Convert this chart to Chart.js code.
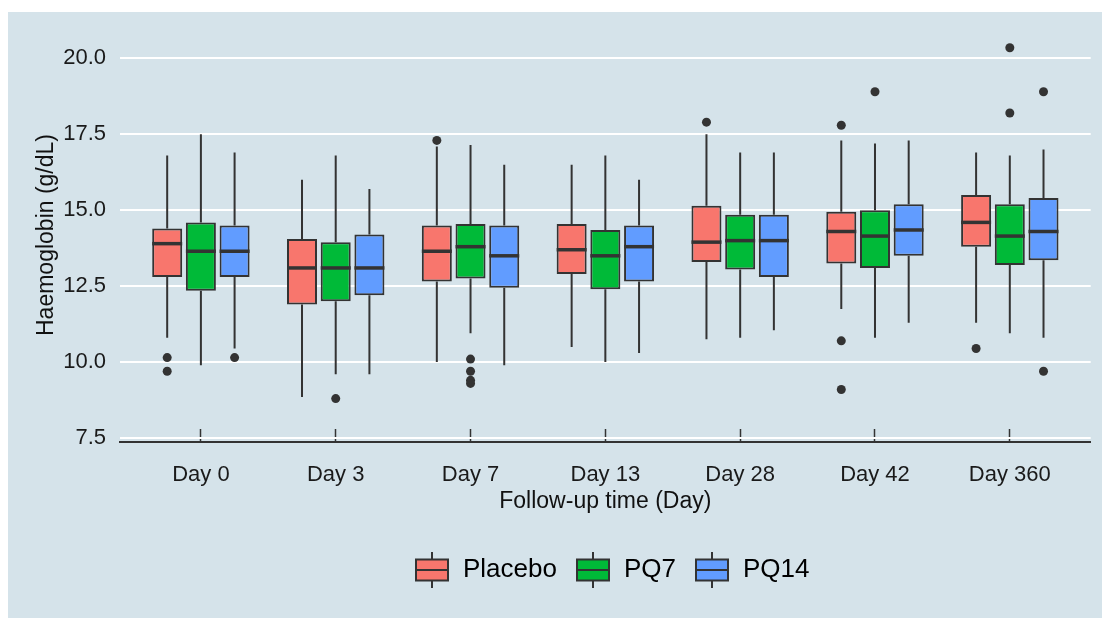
<!DOCTYPE html>
<html>
<head>
<meta charset="utf-8">
<script src="https://cdn.jsdelivr.net/npm/chart.js@4.4.1/dist/chart.umd.min.js"></script>
<style>
  html, body { margin: 0; padding: 0; background: #ffffff; }
  #wrap { width: 1102px; height: 618px; }
</style>
</head>
<body>
<div id="wrap"><canvas id="chart"></canvas></div>
<script>
// ========================================
// Haemoglobin by follow-up day - box plots
// ========================================

const days = ['Day 0', 'Day 3', 'Day 7', 'Day 13', 'Day 28', 'Day 42', 'Day 360'];
const groups = ['Placebo', 'PQ7', 'PQ14'];
const groupColors = ['#F8766D', '#00BA38', '#619CFF'];

// Placebo
const placeboLow = [10.8, 8.85, 10.0, 10.5, 10.75, 11.75, 11.3];
const placeboQ1 = [12.8, 11.9, 12.65, 12.9, 13.3, 13.25, 13.8];
const placeboMedian = [13.9, 13.1, 13.65, 13.7, 13.95, 14.3, 14.6];
const placeboQ3 = [14.4, 14.05, 14.5, 14.55, 15.15, 14.95, 15.5];
const placeboHigh = [16.8, 16.0, 17.1, 16.5, 17.5, 17.3, 16.9];
const placeboOutliers = [[10.15, 9.7], [], [17.3], [], [17.9], [17.8, 10.7, 9.1], [10.45]];

// PQ7
const pq7Low = [9.9, 9.6, 10.95, 10.0, 10.8, 10.8, 10.95];
const pq7Q1 = [12.35, 12.0, 12.75, 12.4, 13.05, 13.1, 13.2];
const pq7Median = [13.65, 13.1, 13.8, 13.5, 14.0, 14.15, 14.15];
const pq7Q3 = [14.6, 13.95, 14.55, 14.35, 14.85, 15.0, 15.2];
const pq7High = [17.5, 16.8, 17.15, 16.8, 16.9, 17.2, 16.8];
const pq7Outliers = [[], [8.8], [10.1, 9.7, 9.4, 9.3], [], [], [18.9], [20.35, 18.2]];

// PQ14
const pq14Low = [10.45, 9.6, 9.9, 10.3, 11.05, 11.3, 10.8];
const pq14Q1 = [12.8, 12.2, 12.45, 12.65, 12.8, 13.5, 13.35];
const pq14Median = [13.65, 13.1, 13.5, 13.8, 14.0, 14.35, 14.3];
const pq14Q3 = [14.5, 14.2, 14.5, 14.5, 14.85, 15.2, 15.4];
const pq14High = [16.9, 15.7, 16.5, 16.0, 16.9, 17.3, 17.0];
const pq14Outliers = [[10.15], [], [], [], [], [], [18.9, 9.7]];

const yTicks = [7.5, 10.0, 12.5, 15.0, 17.5, 20.0];

const stats = [
    { low: placeboLow, q1: placeboQ1, median: placeboMedian, q3: placeboQ3, high: placeboHigh, outliers: placeboOutliers },
    { low: pq7Low, q1: pq7Q1, median: pq7Median, q3: pq7Q3, high: pq7High, outliers: pq7Outliers },
    { low: pq14Low, q1: pq14Q1, median: pq14Median, q3: pq14Q3, high: pq14High, outliers: pq14Outliers }
];

const INK = '#333333';
const FONT = "'Liberation Sans', Arial, sans-serif";

// Legend key: small box with whiskers, like the ggplot key
function makeKeyIcon(color) {
    const c = document.createElement('canvas');
    c.width = 34;
    c.height = 36;
    const g = c.getContext('2d');
    g.strokeStyle = INK;
    g.lineWidth = 2;
    g.beginPath();
    g.moveTo(17, 0);
    g.lineTo(17, 36);
    g.stroke();
    g.fillStyle = color;
    g.fillRect(1, 7.5, 32, 21);
    g.strokeRect(1, 7.5, 32, 21);
    g.beginPath();
    g.moveTo(1, 18);
    g.lineTo(33, 18);
    g.stroke();
    return c;
}
const keyIcons = groupColors.map(makeKeyIcon);

// Panel background
const panelPlugin = {
    id: 'panel',
    beforeDraw(chart) {
        const ctx = chart.ctx;
        ctx.save();
        ctx.fillStyle = '#ffffff';
        ctx.fillRect(0, 0, chart.width, chart.height);
        ctx.fillStyle = '#D5E3EA';
        ctx.fillRect(8, 12, chart.width - 8, chart.height - 12);
        ctx.restore();
    },
    afterUpdate(chart) {
        // center the legend under the panel like ggplot does
        const lg = chart.legend;
        if (!lg || !lg.legendHitBoxes || !lg.legendHitBoxes.length) return;
        const shift = 414 - lg.legendHitBoxes[0].left;
        lg.left += shift;
        lg.right += shift;
        lg.legendHitBoxes.forEach(h => { h.left += shift; });
    }
};

// Whiskers, medians and outliers on top of the IQR bars
const boxplotPlugin = {
    id: 'boxplot',
    beforeDatasetsDraw(chart) {
        const ctx = chart.ctx;
        const y = chart.scales.y;
        ctx.save();
        ctx.strokeStyle = INK;
        ctx.lineWidth = 2;
        stats.forEach((s, di) => {
            const meta = chart.getDatasetMeta(di);
            meta.data.forEach((bar, i) => {
                ctx.beginPath();
                ctx.moveTo(bar.x, y.getPixelForValue(s.q3[i]));
                ctx.lineTo(bar.x, y.getPixelForValue(s.high[i]));
                ctx.moveTo(bar.x, y.getPixelForValue(s.q1[i]));
                ctx.lineTo(bar.x, y.getPixelForValue(s.low[i]));
                ctx.stroke();
            });
        });
        ctx.restore();
    },
    afterDatasetsDraw(chart) {
        const ctx = chart.ctx;
        const y = chart.scales.y;
        ctx.save();
        stats.forEach((s, di) => {
            const meta = chart.getDatasetMeta(di);
            meta.data.forEach((bar, i) => {
                const half = bar.width / 2;
                const my = y.getPixelForValue(s.median[i]);
                ctx.strokeStyle = INK;
                ctx.lineWidth = 3.5;
                ctx.beginPath();
                ctx.moveTo(bar.x - half, my);
                ctx.lineTo(bar.x + half, my);
                ctx.stroke();
                ctx.fillStyle = INK;
                s.outliers[i].forEach(v => {
                    ctx.beginPath();
                    ctx.arc(bar.x, y.getPixelForValue(v), 4.5, 0, Math.PI * 2);
                    ctx.fill();
                });
            });
        });
        ctx.restore();
    }
};

const datasets = groups.map((name, di) => ({
    label: name,
    data: days.map((_, i) => ({ x: i, y: [stats[di].q1[i], stats[di].q3[i]] })),
    backgroundColor: groupColors[di],
    borderColor: INK,
    borderWidth: 2,
    borderSkipped: false,
    categoryPercentage: 0.75,
    barPercentage: 0.89
}));

const ctx = document.getElementById('chart').getContext('2d');
const chart = new Chart(ctx, {
    type: 'bar',
    data: { datasets },
    options: {
        responsive: true,
        maintainAspectRatio: false,
        animation: false,
        layout: { padding: { top: 28, left: 0, right: 11.3, bottom: 25 } },
        plugins: {
            tooltip: { enabled: false },
            legend: {
                position: 'bottom',
                labels: {
                    usePointStyle: true,
                    pointStyleWidth: 36,
                    padding: 18,
                    color: '#111111',
                    font: { family: FONT, size: 26 },
                    generateLabels: (c) => groups.map((name, i) => ({
                        text: name,
                        pointStyle: keyIcons[i],
                        fillStyle: groupColors[i],
                        strokeStyle: INK,
                        lineWidth: 0,
                        hidden: false,
                        datasetIndex: i
                    }))
                }
            }
        },
        scales: {
            x: {
                type: 'linear',
                min: -0.6,
                max: 6.6,
                offset: false,
                afterFit: (scale) => { scale.height = 97; },
                grid: {
                    display: true,
                    offset: false,
                    drawOnChartArea: false,
                    drawTicks: true,
                    tickLength: -13,
                    tickWidth: 1.5,
                    tickColor: INK,
                    color: INK
                },
                border: { display: true, color: INK, width: 2 },
                ticks: {
                    stepSize: 1,
                    includeBounds: false,
                    autoSkip: false,
                    maxRotation: 0,
                    padding: 33,
                    color: '#1a1a1a',
                    font: { family: FONT, size: 22 },
                    callback: (v) => days[v]
                },
                title: {
                    display: true,
                    text: 'Follow-up time (Day)',
                    color: '#111111',
                    font: { family: FONT, size: 23 },
                    padding: { top: 0, bottom: 24 }
                }
            },
            y: {
                min: 7.37,
                max: 21.0,
                afterFit: (scale) => { scale.width = 120; },
                afterBuildTicks: (scale) => { scale.ticks = yTicks.map(v => ({ value: v })); },
                grid: {
                    color: '#ffffff',
                    lineWidth: 2,
                    drawTicks: false
                },
                border: { display: false },
                ticks: {
                    padding: 14,
                    color: '#1a1a1a',
                    font: { family: FONT, size: 22 },
                    callback: (v) => v.toFixed(1)
                },
                title: {
                    display: true,
                    text: 'Haemoglobin (g/dL)',
                    color: '#111111',
                    font: { family: FONT, size: 23 },
                    padding: { top: 33, bottom: 0 }
                }
            }
        }
    },
    plugins: [panelPlugin, boxplotPlugin]
});
</script>
</body>
</html>
